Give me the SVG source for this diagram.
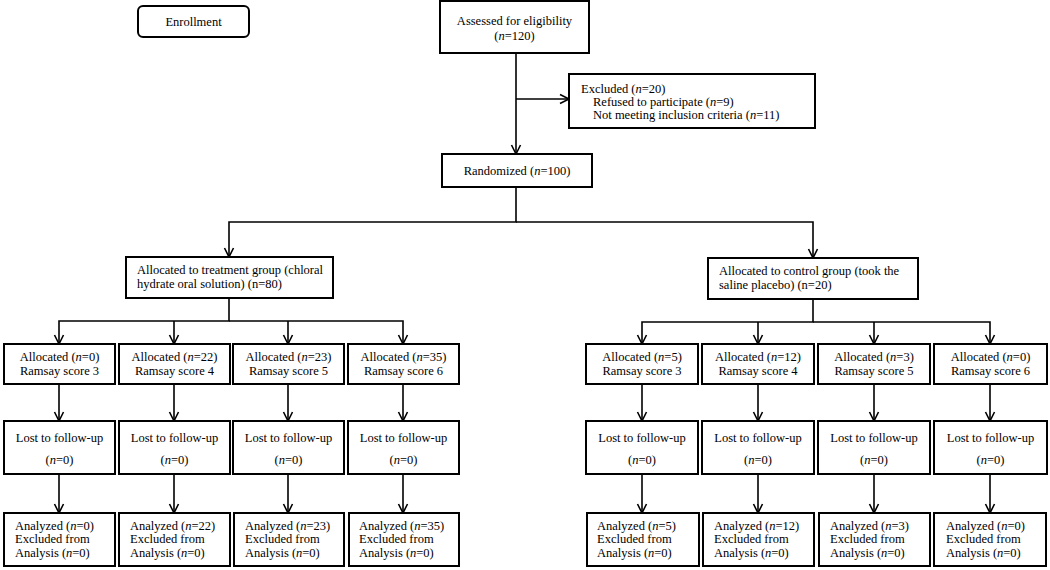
<svg xmlns="http://www.w3.org/2000/svg" width="1050" height="570" viewBox="0 0 1050 570">
<defs>
<style>
.box{fill:#fff;stroke:#000;stroke-width:2}
.ln{fill:none;stroke:#000;stroke-width:1.6}
.arr{fill:none;stroke:#000;stroke-width:1.6;marker-end:url(#ah)}
text{font-family:"Liberation Serif","Times New Roman",serif;font-size:12.5px;fill:#000}
.c{text-anchor:middle}
.i{font-style:italic}
</style>
<marker id="ah" markerUnits="userSpaceOnUse" markerWidth="12" markerHeight="12" viewBox="-1 -1 12 12" refX="9" refY="5" orient="auto">
<path d="M0,0.5 L9,5 L0,9.5" fill="none" stroke="#000" stroke-width="1.6"/>
</marker>
</defs>
<rect width="1050" height="570" fill="#fff"/>

<g id="connectors">
<path class="arr" d="M516,53 V154"/>
<path class="arr" d="M516,99 H569"/>
<path class="arr" d="M516,187 V222 H229 V257"/>
<path class="arr" d="M516,222 H813 V258"/>
<path class="arr" d="M229,298 V321 H59 V344"/>
<path class="arr" d="M229,321 H403 V344"/>
<path class="arr" d="M174,321 V344"/>
<path class="arr" d="M288,321 V344"/>
<path class="arr" d="M813,299 V322 H642 V344"/>
<path class="arr" d="M813,322 H990 V344"/>
<path class="arr" d="M758,322 V344"/>
<path class="arr" d="M874,322 V344"/>
<path class="arr" d="M59,384 V421"/>
<path class="arr" d="M174,384 V421"/>
<path class="arr" d="M288,384 V421"/>
<path class="arr" d="M403,384 V421"/>
<path class="arr" d="M642,384 V421"/>
<path class="arr" d="M758,384 V421"/>
<path class="arr" d="M874,384 V421"/>
<path class="arr" d="M990,384 V421"/>
<path class="arr" d="M59,474 V513"/>
<path class="arr" d="M174,474 V513"/>
<path class="arr" d="M288,474 V513"/>
<path class="arr" d="M403,474 V513"/>
<path class="arr" d="M642,474 V513"/>
<path class="arr" d="M758,474 V513"/>
<path class="arr" d="M874,474 V513"/>
<path class="arr" d="M990,474 V513"/>
</g>

<g id="enrollment">
<rect class="box" x="138" y="6" width="111" height="31" rx="5"/>
<text class="c" x="193.5" y="26">Enrollment</text>
</g>
<g id="assessed">
<rect class="box" x="440" y="1" width="149" height="52"/>
<text class="c" x="514.5" y="25">Assessed for eligibility</text>
<text class="c" x="514.5" y="40">(<tspan class="i">n</tspan>=120)</text>
</g>
<g id="excluded">
<rect class="box" x="569" y="74" width="246" height="54"/>
<text x="581" y="93">Excluded (<tspan class="i">n</tspan>=20)</text>
<text x="593" y="106">Refused to participate (<tspan class="i">n</tspan>=9)</text>
<text x="593" y="119">Not meeting inclusion criteria (<tspan class="i">n</tspan>=11)</text>
</g>
<g id="randomized">
<rect class="box" x="442" y="154" width="150" height="33"/>
<text class="c" x="517" y="175">Randomized (<tspan class="i">n</tspan>=100)</text>
</g>
<g id="treatment">
<rect class="box" x="126" y="257" width="207" height="41"/>
<text x="137" y="274">Allocated to treatment group (chloral</text>
<text x="137" y="288">hydrate oral solution) (n=80)</text>
</g>
<g id="control">
<rect class="box" x="708" y="258" width="210" height="41"/>
<text x="719" y="275">Allocated to control group (took the</text>
<text x="719" y="289">saline placebo) (n=20)</text>
</g>

<g id="alloc-t3"><rect class="box" x="4" y="344" width="111" height="40"/><text class="c" x="59.5" y="361">Allocated (<tspan class="i">n</tspan>=0)</text><text class="c" x="59.5" y="375">Ramsay score 3</text></g>
<g id="alloc-t4"><rect class="box" x="119" y="344" width="111" height="40"/><text class="c" x="174.5" y="361">Allocated (<tspan class="i">n</tspan>=22)</text><text class="c" x="174.5" y="375">Ramsay score 4</text></g>
<g id="alloc-t5"><rect class="box" x="233" y="344" width="111" height="40"/><text class="c" x="288.5" y="361">Allocated (<tspan class="i">n</tspan>=23)</text><text class="c" x="288.5" y="375">Ramsay score 5</text></g>
<g id="alloc-t6"><rect class="box" x="348" y="344" width="111" height="40"/><text class="c" x="403.5" y="361">Allocated (<tspan class="i">n</tspan>=35)</text><text class="c" x="403.5" y="375">Ramsay score 6</text></g>
<g id="alloc-c3"><rect class="box" x="586" y="344" width="112" height="40"/><text class="c" x="642" y="361">Allocated (<tspan class="i">n</tspan>=5)</text><text class="c" x="642" y="375">Ramsay score 3</text></g>
<g id="alloc-c4"><rect class="box" x="702" y="344" width="112" height="40"/><text class="c" x="758" y="361">Allocated (<tspan class="i">n</tspan>=12)</text><text class="c" x="758" y="375">Ramsay score 4</text></g>
<g id="alloc-c5"><rect class="box" x="818" y="344" width="112" height="40"/><text class="c" x="874" y="361">Allocated (<tspan class="i">n</tspan>=3)</text><text class="c" x="874" y="375">Ramsay score 5</text></g>
<g id="alloc-c6"><rect class="box" x="934" y="344" width="113" height="40"/><text class="c" x="990.5" y="361">Allocated (<tspan class="i">n</tspan>=0)</text><text class="c" x="990.5" y="375">Ramsay score 6</text></g>

<g id="lost-t3"><rect class="box" x="4" y="421" width="111" height="53"/><text class="c" x="59.5" y="442">Lost to follow-up</text><text class="c" x="59.5" y="464">(<tspan class="i">n</tspan>=0)</text></g>
<g id="lost-t4"><rect class="box" x="119" y="421" width="111" height="53"/><text class="c" x="174.5" y="442">Lost to follow-up</text><text class="c" x="174.5" y="464">(<tspan class="i">n</tspan>=0)</text></g>
<g id="lost-t5"><rect class="box" x="233" y="421" width="111" height="53"/><text class="c" x="288.5" y="442">Lost to follow-up</text><text class="c" x="288.5" y="464">(<tspan class="i">n</tspan>=0)</text></g>
<g id="lost-t6"><rect class="box" x="348" y="421" width="111" height="53"/><text class="c" x="403.5" y="442">Lost to follow-up</text><text class="c" x="403.5" y="464">(<tspan class="i">n</tspan>=0)</text></g>
<g id="lost-c3"><rect class="box" x="586" y="421" width="112" height="53"/><text class="c" x="642" y="442">Lost to follow-up</text><text class="c" x="642" y="464">(<tspan class="i">n</tspan>=0)</text></g>
<g id="lost-c4"><rect class="box" x="702" y="421" width="112" height="53"/><text class="c" x="758" y="442">Lost to follow-up</text><text class="c" x="758" y="464">(<tspan class="i">n</tspan>=0)</text></g>
<g id="lost-c5"><rect class="box" x="818" y="421" width="112" height="53"/><text class="c" x="874" y="442">Lost to follow-up</text><text class="c" x="874" y="464">(<tspan class="i">n</tspan>=0)</text></g>
<g id="lost-c6"><rect class="box" x="934" y="421" width="113" height="53"/><text class="c" x="990.5" y="442">Lost to follow-up</text><text class="c" x="990.5" y="464">(<tspan class="i">n</tspan>=0)</text></g>

<g id="anal-t3"><rect class="box" x="4" y="513" width="111" height="53"/><text x="15" y="530">Analyzed (<tspan class="i">n</tspan>=0)</text><text x="15" y="543">Excluded from</text><text x="15" y="557">Analysis (<tspan class="i">n</tspan>=0)</text></g>
<g id="anal-t4"><rect class="box" x="119" y="513" width="111" height="53"/><text x="130" y="530">Analyzed (<tspan class="i">n</tspan>=22)</text><text x="130" y="543">Excluded from</text><text x="130" y="557">Analysis (<tspan class="i">n</tspan>=0)</text></g>
<g id="anal-t5"><rect class="box" x="234" y="513" width="110" height="53"/><text x="245" y="530">Analyzed (<tspan class="i">n</tspan>=23)</text><text x="245" y="543">Excluded from</text><text x="245" y="557">Analysis (<tspan class="i">n</tspan>=0)</text></g>
<g id="anal-t6"><rect class="box" x="349" y="513" width="110" height="53"/><text x="359" y="530">Analyzed (<tspan class="i">n</tspan>=35)</text><text x="359" y="543">Excluded from</text><text x="359" y="557">Analysis (<tspan class="i">n</tspan>=0)</text></g>
<g id="anal-c3"><rect class="box" x="587" y="513" width="112" height="53"/><text x="597" y="530">Analyzed (<tspan class="i">n</tspan>=5)</text><text x="597" y="543">Excluded from</text><text x="597" y="557">Analysis (<tspan class="i">n</tspan>=0)</text></g>
<g id="anal-c4"><rect class="box" x="703" y="513" width="111" height="53"/><text x="714" y="530">Analyzed (<tspan class="i">n</tspan>=12)</text><text x="714" y="543">Excluded from</text><text x="714" y="557">Analysis (<tspan class="i">n</tspan>=0)</text></g>
<g id="anal-c5"><rect class="box" x="819" y="513" width="111" height="53"/><text x="830" y="530">Analyzed (<tspan class="i">n</tspan>=3)</text><text x="830" y="543">Excluded from</text><text x="830" y="557">Analysis (<tspan class="i">n</tspan>=0)</text></g>
<g id="anal-c6"><rect class="box" x="934" y="513" width="112" height="53"/><text x="946" y="530">Analyzed (<tspan class="i">n</tspan>=0)</text><text x="946" y="543">Excluded from</text><text x="946" y="557">Analysis (<tspan class="i">n</tspan>=0)</text></g>
</svg>
